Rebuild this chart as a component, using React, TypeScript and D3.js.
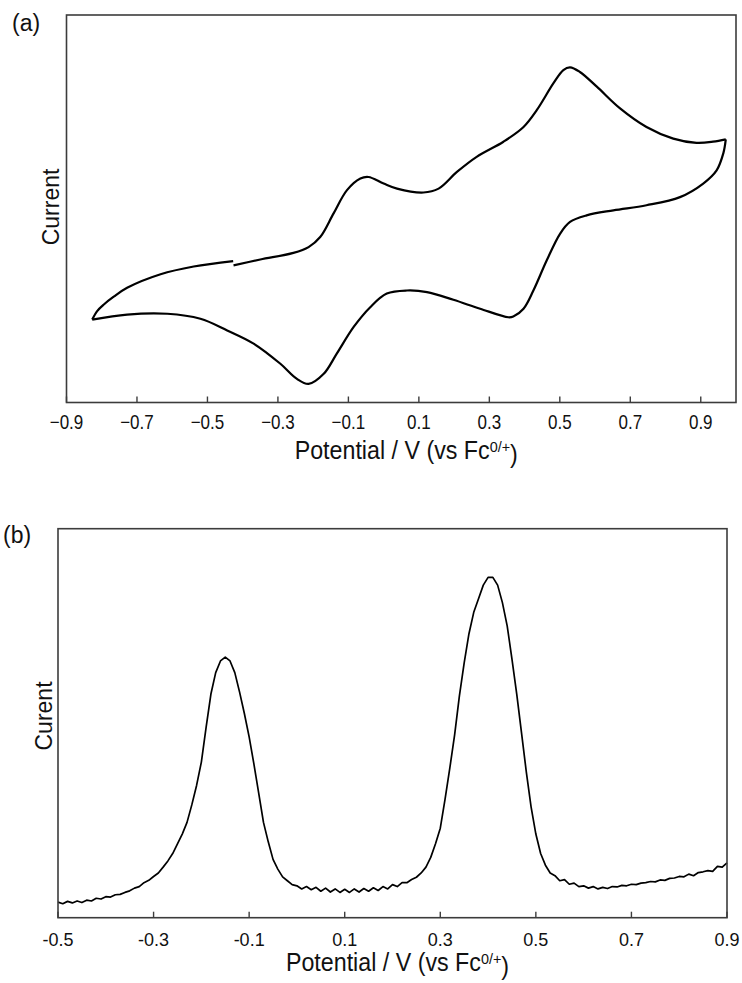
import React, { useEffect, useRef } from 'react';
import * as d3 from 'd3';

// (a) cyclic voltammogram: potential (V vs Fc0/+) and current (arb. units)
const cvForwardE = [-0.426, -0.35, -0.256, -0.213, -0.18, -0.142, -0.104, -0.066, -0.043, 0.0, 0.038, 0.113, 0.156, 0.208, 0.264, 0.34, 0.397, 0.435, 0.482, 0.51, 0.529, 0.557, 0.605, 0.671, 0.746, 0.822, 0.888, 0.935, 0.971];
const cvForwardI = [35.4, 36.9, 38.6, 40.1, 42.7, 48.8, 54.8, 57.8, 58.2, 56.5, 55.2, 54.2, 55.2, 59.5, 63.4, 67.3, 71.1, 75.5, 82.4, 85.8, 86.5, 85.3, 81.5, 75.9, 71.1, 68.1, 67.0, 67.3, 67.9];
const cvReverseE = [0.971, 0.964, 0.945, 0.907, 0.841, 0.746, 0.652, 0.576, 0.529, 0.501, 0.463, 0.425, 0.397, 0.368, 0.354, 0.274, 0.198, 0.123, 0.066, 0.009, -0.038, -0.085, -0.133, -0.17, -0.213, -0.246, -0.293, -0.369, -0.444, -0.52, -0.614, -0.728, -0.827];
const cvReverseI = [67.9, 64.3, 59.9, 56.5, 53.0, 50.9, 49.6, 48.3, 46.6, 43.6, 36.7, 28.9, 24.2, 22.2, 22.0, 24.2, 26.5, 28.5, 28.9, 28.1, 24.6, 19.5, 12.6, 7.4, 4.8, 6.1, 10.0, 15.2, 18.6, 21.6, 22.9, 22.7, 21.4];
const cvReturnE = [-0.827, -0.813, -0.794, -0.766, -0.728, -0.633, -0.539, -0.427];
const cvReturnI = [21.4, 23.6, 25.3, 27.3, 29.6, 33.1, 35.1, 36.5];
const cvTickValues = [-0.9, -0.7, -0.5, -0.3, -0.1, 0.1, 0.3, 0.5, 0.7, 0.9];
const cvTickLabels = ['\u22120.9', '\u22120.7', '\u22120.5', '\u22120.3', '\u22120.1', '0.1', '0.3', '0.5', '0.7', '0.9'];

// (b) differential pulse voltammogram
const dpvE = [
  -0.5, -0.49, -0.48, -0.47, -0.46, -0.45, -0.44, -0.43, -0.42, -0.41, -0.4, -0.39, -0.38, -0.37, -0.36, -0.35, -0.34, -0.33, -0.32, -0.31,
  -0.3, -0.29, -0.28, -0.27, -0.26, -0.25, -0.24, -0.23, -0.22, -0.21, -0.2, -0.19, -0.18, -0.17, -0.16, -0.15, -0.14, -0.13, -0.12, -0.11,
  -0.1, -0.09, -0.08, -0.07, -0.06, -0.05, -0.04, -0.03, -0.02, -0.01, 0.0, 0.01, 0.02, 0.03, 0.04, 0.05, 0.06, 0.07, 0.08, 0.09,
  0.1, 0.11, 0.12, 0.13, 0.14, 0.15, 0.16, 0.17, 0.18, 0.19, 0.2, 0.21, 0.22, 0.23, 0.24, 0.25, 0.26, 0.27, 0.28, 0.29,
  0.3, 0.31, 0.32, 0.33, 0.34, 0.35, 0.36, 0.37, 0.38, 0.39, 0.4, 0.41, 0.42, 0.43, 0.44, 0.45, 0.46, 0.47, 0.48, 0.49,
  0.5, 0.51, 0.52, 0.53, 0.54, 0.55, 0.56, 0.57, 0.58, 0.59, 0.6, 0.61, 0.62, 0.63, 0.64, 0.65, 0.66, 0.67, 0.68, 0.69,
  0.7, 0.71, 0.72, 0.73, 0.74, 0.75, 0.76, 0.77, 0.78, 0.79, 0.8, 0.81, 0.82, 0.83, 0.84, 0.85, 0.86, 0.87, 0.88, 0.89, 0.9,
];
const dpvI = [
  4.0, 3.6, 4.2, 3.8, 4.3, 3.9, 4.5, 4.3, 5.0, 4.8, 5.4, 5.3, 5.9, 6.0, 6.5, 6.9, 7.6, 8.0, 9.0, 9.6,
  10.6, 11.5, 13.0, 14.6, 16.5, 19.0, 21.5, 24.5, 29.0, 34.0, 40.0, 49.0, 57.5, 63.0, 66.0, 67.0, 66.0, 63.0, 58.0, 52.5,
  46.5, 39.5, 32.0, 24.5, 19.5, 15.0, 12.5, 10.5, 9.5, 8.5, 8.2, 7.4, 8.0, 7.2, 7.8, 6.8, 7.6, 6.6, 7.4, 6.5,
  7.3, 6.5, 7.4, 6.6, 7.5, 6.8, 7.7, 7.0, 8.0, 7.4, 8.5, 8.0, 9.0, 9.0, 9.8, 10.4, 11.5, 13.0, 15.5, 19.0,
  23.0, 30.5, 38.5, 47.0, 57.0, 65.5, 73.0, 78.5, 82.0, 85.5, 87.5, 87.5, 85.5, 81.0, 75.0, 66.5, 57.5, 47.5, 37.5, 28.5,
  21.5, 16.5, 13.5, 11.5, 10.8, 9.5, 9.8, 8.6, 8.9, 8.0, 8.2, 7.6, 8.0, 7.4, 7.8, 7.5, 8.0, 7.9, 8.3, 8.2,
  8.6, 8.5, 8.9, 9.0, 9.3, 9.2, 9.7, 9.6, 10.1, 10.2, 10.6, 10.5, 11.2, 10.8, 11.6, 11.8, 12.1, 11.9, 13.2, 13.0, 14.1,
];
const dpvTickValues = [-0.5, -0.3, -0.1, 0.1, 0.3, 0.5, 0.7, 0.9];
const dpvTickLabels = ['-0.5', '-0.3', '-0.1', '0.1', '0.3', '0.5', '0.7', '0.9'];

const sans = "'Liberation Sans', Arial, sans-serif";

const zip = (xs: number[], ys: number[]) => xs.map((v, i) => [v, ys[i]] as [number, number]);

function drawPanel(svg: any, p: any) {
  const x = d3.scaleLinear().domain(p.xDomain).range([p.left, p.right]);
  const y = d3.scaleLinear().domain([0, 100]).range([p.bottom, p.top]);
  const g = svg.append('g');

  const line = d3.line<[number, number]>()
    .x(d => x(d[0]))
    .y(d => y(d[1]))
    .curve(p.smooth ? d3.curveCatmullRom.alpha(0.5) : d3.curveLinear);

  p.series.forEach((s: [number, number][]) => {
    g.append('path')
      .attr('d', line(s))
      .attr('fill', 'none')
      .attr('stroke', '#000')
      .attr('stroke-width', p.lineWidth)
      .attr('stroke-linejoin', 'round');
  });

  // frame
  g.append('rect')
    .attr('x', p.left).attr('y', p.top)
    .attr('width', p.right - p.left).attr('height', p.bottom - p.top)
    .attr('fill', 'none').attr('stroke', '#3c3c3c').attr('stroke-width', 1.6);

  // inward ticks + labels
  p.ticks.forEach((v: number, i: number) => {
    g.append('line')
      .attr('x1', x(v)).attr('x2', x(v))
      .attr('y1', p.bottom).attr('y2', p.bottom - 6)
      .attr('stroke', '#3c3c3c').attr('stroke-width', 1.4);
    g.append('text')
      .attr('transform', `translate(${x(v)},${p.tickY}) scale(${p.tickSqueeze},1)`)
      .attr('text-anchor', 'middle')
      .attr('font-family', sans).attr('font-size', p.tickSize)
      .attr('fill', '#111')
      .text(p.tickLabels[i]);
  });

  // x title (slightly condensed)
  const t = g.append('text')
    .attr('transform', `translate(${(p.left + p.right) / 2 + 5},${p.titleY}) scale(0.93,1)`)
    .attr('text-anchor', 'middle')
    .attr('font-family', sans).attr('font-size', 25)
    .attr('fill', '#111');
  t.append('tspan').text('Potential / V (vs Fc');
  t.append('tspan').attr('dy', '-0.45em').attr('font-size', '0.62em').text('0/+');
  t.append('tspan').attr('dy', '0.45em').text(')');

  // y title
  g.append('text')
    .attr('transform', `translate(${p.yLabelX},${p.yLabelY}) rotate(-90)`)
    .attr('text-anchor', 'middle')
    .attr('dominant-baseline', 'central')
    .attr('font-family', sans).attr('font-size', 23)
    .attr('fill', '#111')
    .text(p.yLabel);

  // panel tag
  g.append('text')
    .attr('x', p.tagX).attr('y', p.tagY)
    .attr('font-family', sans).attr('font-size', 23)
    .attr('fill', '#111')
    .text(p.tag);
}

const App = () => {
  const svgRef = useRef<SVGSVGElement>(null);

  useEffect(() => {
    const svg = d3.select(svgRef.current);
    svg.selectAll('*').remove();

    drawPanel(svg, {
      left: 66.5, right: 736, top: 15, bottom: 402.5,
      xDomain: [-0.9, 1.0],
      series: [zip(cvForwardE, cvForwardI), zip(cvReverseE, cvReverseI), zip(cvReturnE, cvReturnI)],
      smooth: true, lineWidth: 2.2,
      ticks: cvTickValues, tickLabels: cvTickLabels,
      tickSize: 20, tickSqueeze: 0.85, tickY: 429,
      titleY: 459,
      yLabel: 'Current', yLabelX: 51, yLabelY: 207,
      tag: '(a)', tagX: 12, tagY: 31,
    });

    drawPanel(svg, {
      left: 58, right: 727, top: 528.7, bottom: 917.7,
      xDomain: [-0.5, 0.9],
      series: [zip(dpvE, dpvI)],
      smooth: false, lineWidth: 1.7,
      ticks: dpvTickValues, tickLabels: dpvTickLabels,
      tickSize: 18, tickSqueeze: 1, tickY: 946,
      titleY: 971,
      yLabel: 'Curent', yLabelX: 44, yLabelY: 716,
      tag: '(b)', tagX: 3, tagY: 543,
    });
  }, []);

  return (
    <svg ref={svgRef} width={742} height={983}
      style={{ position: 'absolute', left: 0, top: 0, background: '#fff' }} />
  );
};

export default App;
